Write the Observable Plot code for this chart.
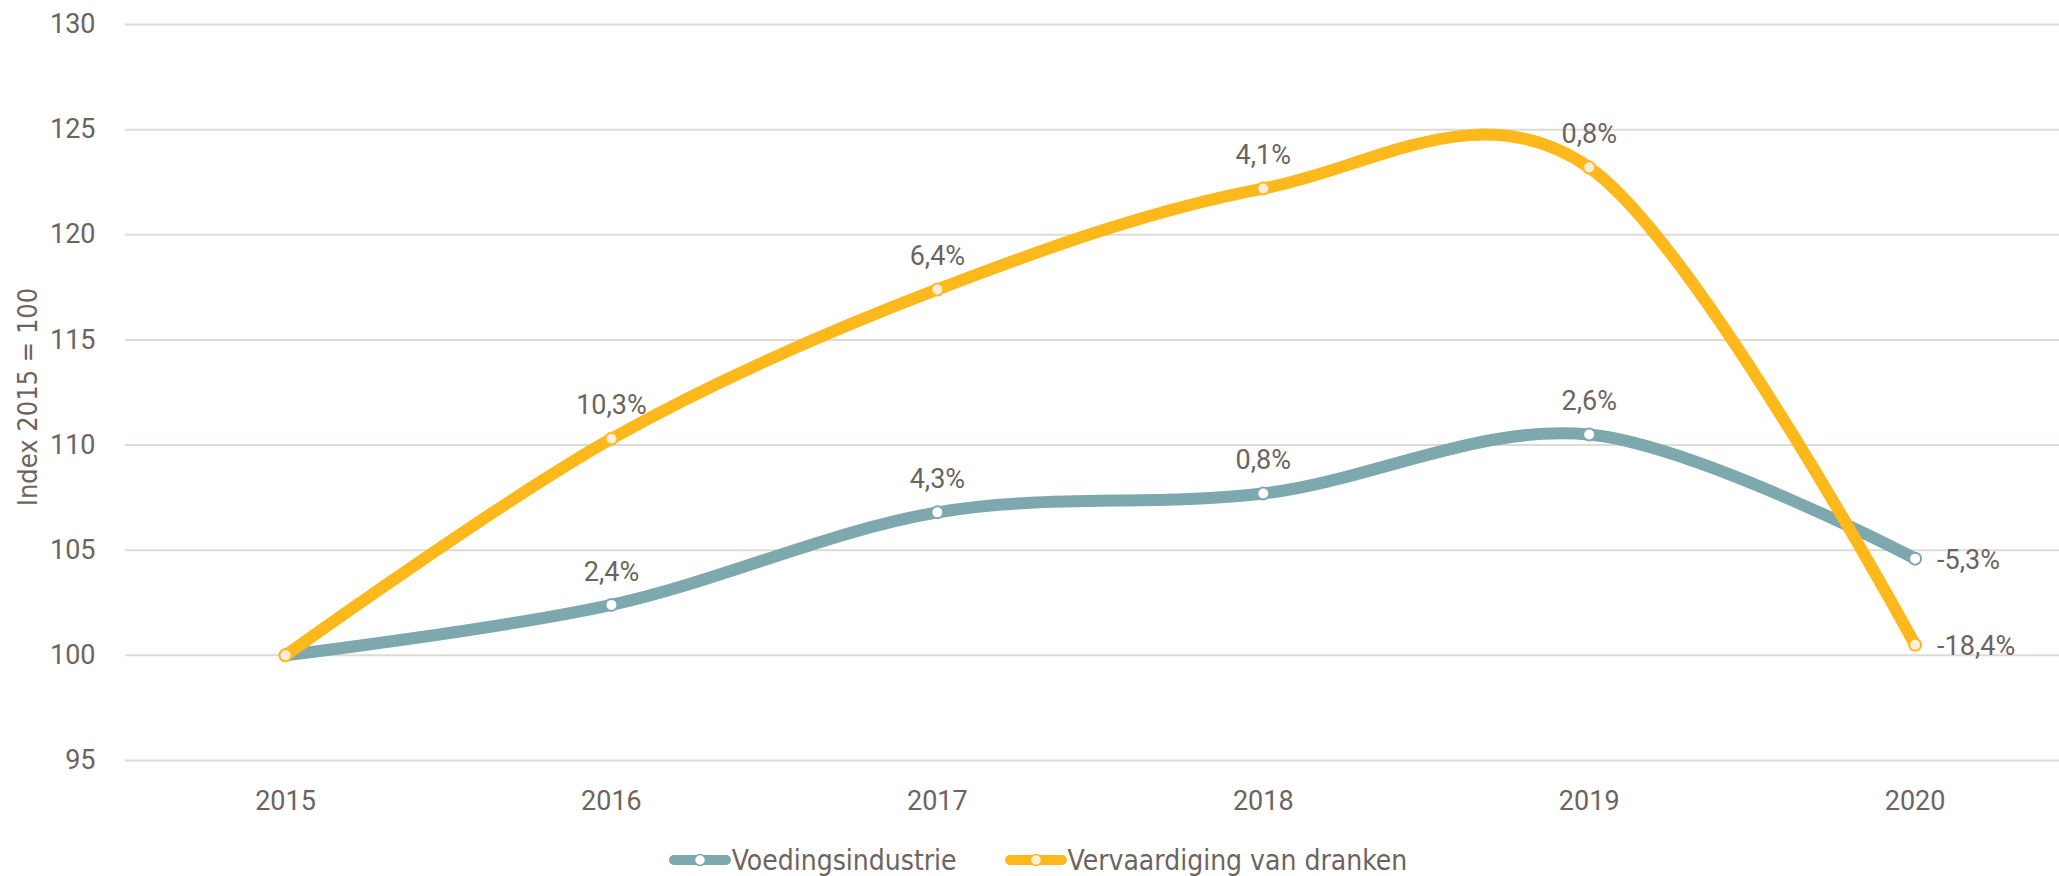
<!DOCTYPE html>
<html>
<head>
<meta charset="utf-8">
<script src="https://cdn.jsdelivr.net/npm/d3@7"></script>
<script src="https://cdn.jsdelivr.net/npm/@observablehq/plot@0.6"></script>
<style>
  html, body { margin: 0; padding: 0; background: #fff; overflow: hidden; }
  #wrap { position: relative; width: 2059px; }
  #chart { width: 2059px; }
  #ylabel { position: absolute; left: 27px; top: 397px; transform: translate(-50%, -50%) rotate(-90deg);
    white-space: nowrap; font-family: "Liberation Sans Narrow", "DejaVu Sans Condensed", sans-serif; font-size: 27px; color: #6d645e; }
  .legend { display: flex; justify-content: center; align-items: center; height: 36px; padding-top: 12px; gap: 47px;
    font-family: "Liberation Sans Narrow", "DejaVu Sans Condensed", sans-serif; font-size: 28px; color: #6d645e;
    padding-left: 16px; }
  .legend .item { display: flex; align-items: center; }
  .legend svg { display: block; }
</style>
</head>
<body>
<div id="wrap">
  <div id="chart"></div>
  <div id="ylabel"></div>
  <div class="legend" id="legend"></div>
</div>
<script>
const years = [2015, 2016, 2017, 2018, 2019, 2020];
const seriesNames = ["Voedingsindustrie", "Vervaardiging van dranken"];
const voeding = [100, 102.4, 106.8, 107.7, 110.5, 104.6];
const dranken = [100, 110.3, 117.4, 122.2, 123.2, 100.5];
const voedingLabels = ["", "2,4%", "4,3%", "0,8%", "2,6%", "-5,3%"];
const drankenLabels = ["", "10,3%", "6,4%", "4,1%", "0,8%", "-18,4%"];
const yTicks = [95, 100, 105, 110, 115, 120, 125, 130];
const colors = ["#7ca8ae", "#fdb81c"];
const dotFills = ["#ffffff", "#fdeedb"];
const yLabel = "Index 2015 = 100";

const rows = [];
[voeding, dranken].forEach((vals, s) => {
  const labs = s === 0 ? voedingLabels : drankenLabels;
  vals.forEach((v, i) => rows.push({series: seriesNames[s], year: years[i], value: v, label: labs[i], last: i === years.length - 1}));
});
const textColor = "#6d645e";

const chart = Plot.plot({
  width: 2059,
  height: 830,
  marginTop: 24,
  marginBottom: 70,
  marginLeft: 125,
  marginRight: 0,
  style: {fontFamily: "Roboto, sans-serif", fontSize: "27px", color: textColor, background: "#fff"},
  x: {type: "linear", domain: [2014.509, 2020.443]},
  y: {domain: [95, 130]},
  color: {domain: seriesNames, range: colors},
  marks: [
    Plot.ruleY(yTicks, {stroke: "#dedad6", strokeWidth: 2}),
    Plot.axisY({ticks: yTicks, tickSize: 0, tickPadding: 30, label: null, fill: textColor}),
    Plot.axisX({ticks: years, tickFormat: d => String(d), tickSize: 0, tickPadding: 30, label: null, fill: textColor}),
    ...seriesNames.map((name, s) => [
      Plot.line(rows.filter(d => d.series === name), {x: "year", y: "value", stroke: colors[s], strokeWidth: 12,
        strokeLinecap: "round", strokeLinejoin: "round", curve: "cardinal", tension: 0}),
      Plot.dot(rows.filter(d => d.series === name), {x: "year", y: "value", r: 6, fill: dotFills[s], stroke: colors[s], strokeWidth: 2})
    ]).flat(),
    Plot.text(rows.filter(d => d.label && !d.last), {x: "year", y: "value", text: "label", dy: -33, fill: textColor}),
    Plot.text(rows.filter(d => d.label && d.last), {x: "year", y: "value", text: "label", dx: 22, dy: 2, textAnchor: "start", fill: textColor})
  ]
});
document.getElementById("chart").appendChild(chart);
document.getElementById("ylabel").textContent = yLabel;

const legend = document.getElementById("legend");
seriesNames.forEach((name, s) => {
  const item = document.createElement("div");
  item.className = "item";
  item.innerHTML = `<svg width="64" height="16"><line x1="6" y1="8" x2="58" y2="8" stroke="${colors[s]}" stroke-width="10" stroke-linecap="round"/><circle cx="32" cy="8" r="5.5" fill="${dotFills[s]}" stroke="${colors[s]}" stroke-width="1.5"/></svg><span>${name}</span>`;
  legend.appendChild(item);
});
</script>
</body>
</html>
